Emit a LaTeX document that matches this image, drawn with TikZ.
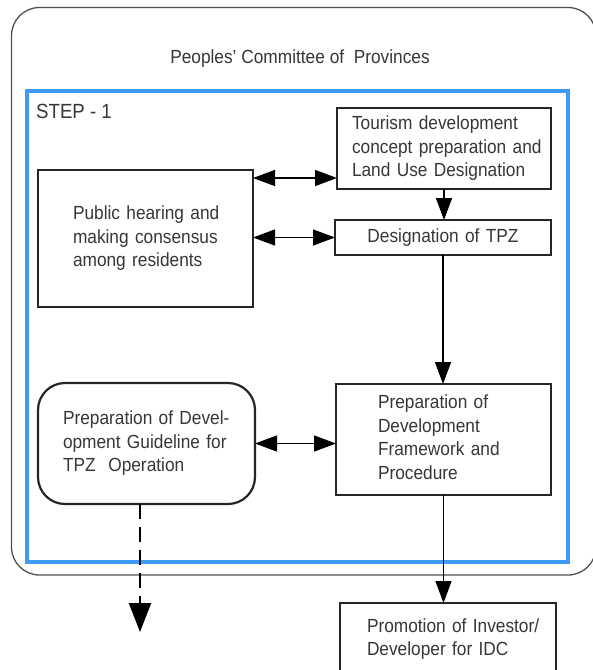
\documentclass[tikz,border=0pt]{standalone}
\usepackage{fontspec}
\setmainfont[FakeStretch=0.91]{Liberation Sans}
\usetikzlibrary{arrows.meta}
\definecolor{stepblue}{RGB}{61,155,245}
\definecolor{inkgray}{RGB}{55,55,55}
\definecolor{framegray}{RGB}{80,80,80}
\begin{document}
\begin{tikzpicture}[x=1pt,y=-1pt,
  boxed/.style={draw=black!85, line width=2.2pt, anchor=north west, outer sep=0pt,
    align=left, inner ysep=0pt, text=inkgray, font=\fontsize{19}{23.5}\selectfont},
  label text/.style={text=inkgray, inner sep=0pt},
  link/.style={line width=1.3pt, -{Triangle[length=22pt,width=16pt]}},
  dbl/.style={line width=1.3pt, {Triangle[length=22pt,width=16pt]}-{Triangle[length=22pt,width=16pt]}},
  dashlink/.style={line width=2pt, dash pattern=on 15pt off 8pt, -{Triangle[length=29pt,width=22pt]}},
]
\fill[white] (0,0) rectangle (593,670);
\useasboundingbox (0,0) rectangle (593,670);

% outer frame and the step frame
\draw[framegray, line width=1.3pt, rounded corners=28pt] (11.5,7.5) rectangle (596,575);
\draw[stepblue, line width=4pt] (27,91) rectangle (568,562);

\node[label text, anchor=base, font=\fontsize{19}{22}\selectfont] (title) at (300,63)
  {Peoples' Committee of\ \ Provinces};
\node[label text, anchor=base west, font=\fontsize{20.5}{24}\selectfont] (step1) at (36,118)
  {STEP - 1};

% process boxes
\node[boxed, text width=184pt, inner xsep=15pt, minimum height=81pt] (tour) at (337,108)
  {\begin{tabular}{@{}l@{}}Tourism development\\concept preparation and\\Land Use Designation\end{tabular}};
\node[boxed, text width=145pt, inner xsep=35pt, minimum height=137pt] (pub) at (38,170)
  {\begin{tabular}{@{}l@{}}Public hearing and\\making consensus\\among residents\end{tabular}};
\node[boxed, align=center, text width=196pt, inner xsep=10pt, minimum height=35pt] (des) at (335,220)
  {Designation of TPZ};
\node[boxed, text width=131pt, inner xsep=42pt, minimum height=111pt] (fw) at (336,384)
  {\begin{tabular}{@{}l@{}}Preparation of\\Development\\Framework and\\Procedure\end{tabular}};
\node[boxed, rounded corners=27pt, text width=167pt, inner xsep=25pt, minimum height=121pt] (gl) at (38,383)
  {\begin{tabular}{@{}l@{}}Preparation of Devel-\\opment Guideline for\\TPZ\ \ Operation\end{tabular}};
\node[boxed, text width=162pt, inner xsep=27pt, minimum height=73pt] (prom) at (340,603)
  {\begin{tabular}{@{}l@{}}Promotion of Investor/\\Developer for IDC\end{tabular}};

% connectors
\coordinate (a1) at ([yshift=-8pt]pub.north east);
\draw[dbl] (a1) -- (a1 -| tour.west);
\draw[dbl] (des.west -| pub.east) -- (des.west);
\draw[dbl] (gl.east) -- (gl.east -| fw.west);
\draw[link] (tour.south) -- (tour.south |- des.north);
\draw[link] (des.south) -- (des.south |- fw.north);
\draw[link] (fw.south) -- (fw.south |- prom.north);
\coordinate (dsh) at (140,632);
\draw[dashlink] (dsh |- gl.south) -- (dsh);
\end{tikzpicture}
\end{document}
